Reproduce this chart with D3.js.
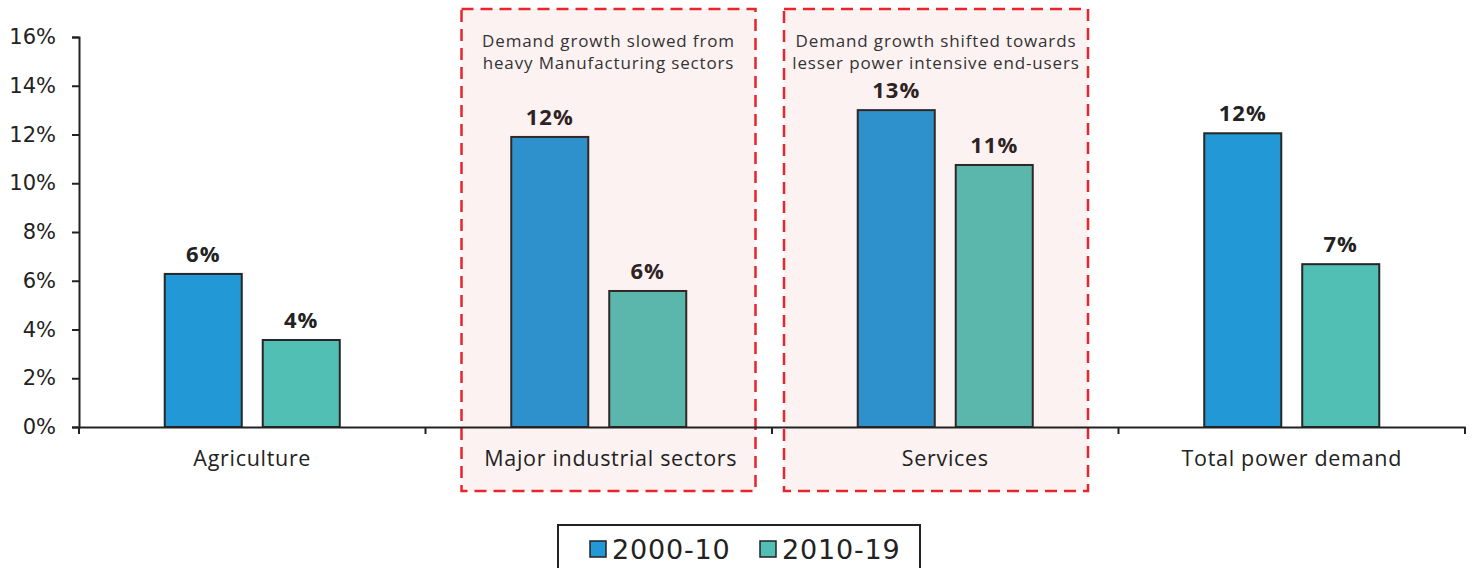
<!DOCTYPE html>
<html>
<head>
<meta charset="utf-8">
<script src="https://cdn.jsdelivr.net/npm/d3@7"></script>
<style>
  body { margin: 0; background: #fff; }
  svg { display: block; }
</style>
</head>
<body>
<div id="chart"></div>
<script>
const categories = ['Agriculture', 'Major industrial sectors', 'Services', 'Total power demand'];
const seriesNames = ['2000-10', '2010-19'];
const values2000 = [6.28, 11.9, 13.0, 12.05];
const values2010 = [3.57, 5.58, 10.75, 6.68];
const yTicks = [0, 2, 4, 6, 8, 10, 12, 14, 16];
const notes = [
    { cat: 'Major industrial sectors', lines: ['Demand growth slowed from', 'heavy Manufacturing sectors'] },
    { cat: 'Services', lines: ['Demand growth shifted towards', 'lesser power intensive end-users'] }
];
const colors = ['#2398d6', '#52bfb4'];

var width = 1475,
    height = 568;
var margin = { left: 79, right: 10, top: 37, bottom: 141 };
var labelFont = '"Open Sans", sans-serif';

var svg = d3.select('#chart').append('svg')
    .attr('width', width)
    .attr('height', height);

var x = d3.scaleBand()
    .domain(categories)
    .range([margin.left, width - margin.right]);

var y = d3.scaleLinear()
    .domain([0, 16])
    .range([height - margin.bottom, margin.top]);

var inner = d3.scaleBand()
    .domain(seriesNames)
    .range([0, x.bandwidth()])
    .paddingInner(0.214)
    .paddingOuter(0.875);

var rows = categories.map(function (c, i) {
    return { cat: c, vals: [values2000[i], values2010[i]] };
});

// bars
var groups = svg.append('g').selectAll('g')
    .data(rows)
    .enter().append('g')
    .attr('transform', d => 'translate(' + x(d.cat) + ',0)');

groups.selectAll('rect')
    .data(d => d.vals.map((v, j) => ({ name: seriesNames[j], v: v, j: j })))
    .enter().append('rect')
    .attr('x', d => inner(d.name))
    .attr('y', d => y(d.v))
    .attr('width', inner.bandwidth())
    .attr('height', d => y(0) - y(d.v))
    .attr('fill', d => colors[d.j])
    .attr('stroke', '#262626')
    .attr('stroke-width', 2);

groups.selectAll('text.val')
    .data(d => d.vals.map((v, j) => ({ name: seriesNames[j], v: v })))
    .enter().append('text')
    .attr('class', 'val')
    .attr('x', d => inner(d.name) + inner.bandwidth() / 2)
    .attr('y', d => y(d.v) - 12)
    .attr('text-anchor', 'middle')
    .style('font-family', labelFont)
    .style('font-weight', 'bold')
    .style('font-size', '22px')
    .style('letter-spacing', '1px')
    .style('fill', '#222')
    .text(d => Math.round(d.v) + '%');

// annotation boxes (drawn over bars with a faint tint)
var boxes = svg.append('g').selectAll('g')
    .data(notes)
    .enter().append('g');

boxes.append('rect')
    .attr('x', d => x(d.cat) + (d.cat === 'Services' ? 12 : 36))
    .attr('y', 9)
    .attr('width', d => d.cat === 'Services' ? 304 : 294)
    .attr('height', 482)
    .attr('fill', 'rgba(232,60,60,0.065)')
    .attr('stroke', '#e8252b')
    .attr('stroke-width', 2.5)
    .attr('stroke-dasharray', '12,7');

boxes.each(function (d) {
    var cx = x(d.cat) + (d.cat === 'Services' ? 12 + 152 : 36 + 147);
    d3.select(this).selectAll('text')
        .data(d.lines)
        .enter().append('text')
        .attr('x', cx)
        .attr('y', (t, i) => 47 + i * 22)
        .attr('text-anchor', 'middle')
        .style('font-family', labelFont)
        .style('font-size', '17px')
        .style('letter-spacing', '0.85px')
        .style('fill', '#333')
        .text(t => t);
});

// y axis
var yAxis = svg.append('g')
    .attr('transform', 'translate(' + margin.left + ',0)')
    .call(d3.axisLeft(y).tickValues(yTicks).tickSize(7).tickPadding(16).tickFormat(d => d + '%'));
yAxis.select('.domain').attr('stroke', '#222').attr('stroke-width', 2);
yAxis.selectAll('.tick line').attr('stroke', '#222').attr('stroke-width', 2);
yAxis.selectAll('.tick text')
    .style('font-family', '"DejaVu Sans", sans-serif')
    .style('font-size', '21px')
    .style('fill', '#222');

// x axis
var xAxis = svg.append('g')
    .attr('transform', 'translate(0,' + y(0) + ')')
    .call(d3.axisBottom(x).tickSize(0).tickPadding(24));
xAxis.select('.domain').attr('stroke', '#222').attr('stroke-width', 2);
xAxis.selectAll('.tick text')
    .attr('dx', d => d === 'Major industrial sectors' ? 12 : 0)
    .style('font-family', labelFont)
    .style('font-size', '21.5px')
    .style('letter-spacing', '0.7px')
    .style('fill', '#222');

svg.append('g').selectAll('line')
    .data(categories.concat(['end']))
    .enter().append('line')
    .attr('x1', (d, i) => i < categories.length ? x(d) : x.range()[1])
    .attr('x2', (d, i) => i < categories.length ? x(d) : x.range()[1])
    .attr('y1', y(0))
    .attr('y2', y(0) + 7)
    .attr('stroke', '#222')
    .attr('stroke-width', 2);

// legend
var legend = svg.append('g').attr('transform', 'translate(558,525)');
legend.append('rect')
    .attr('x', 0).attr('y', 0)
    .attr('width', 362).attr('height', 60)
    .attr('fill', '#fff')
    .attr('stroke', '#222')
    .attr('stroke-width', 2);

var items = legend.selectAll('g.item')
    .data(seriesNames)
    .enter().append('g')
    .attr('class', 'item')
    .attr('transform', (d, i) => 'translate(' + (32 + i * 170) + ',0)');

items.append('rect')
    .attr('x', 0).attr('y', 16)
    .attr('width', 16).attr('height', 16)
    .attr('fill', (d, i) => colors[i])
    .attr('stroke', '#222')
    .attr('stroke-width', 1.5);

items.append('text')
    .attr('x', 22)
    .attr('y', 34)
    .style('font-family', '"DejaVu Sans", sans-serif')
    .style('font-size', '27px')
    .style('letter-spacing', '0.8px')
    .style('fill', '#222')
    .text(d => d);
</script>
</body>
</html>
